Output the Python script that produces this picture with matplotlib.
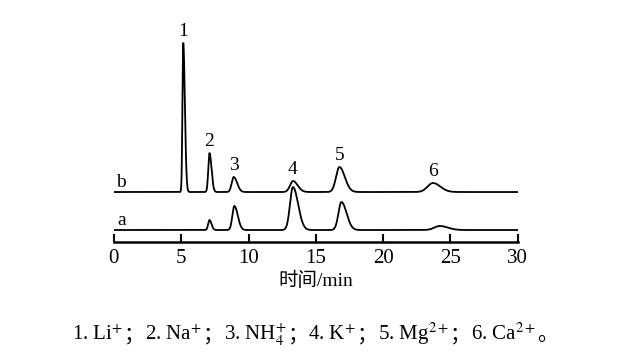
import numpy as np
import matplotlib.pyplot as plt

plt.rcParams['font.family'] = ['Liberation Serif', 'Noto Sans CJK SC']
plt.rcParams['mathtext.fontset'] = 'stix'

# peak data (retention time / min, height, left & right width)
rt_b = [5.15, 7.1, 8.9, 13.3, 16.75, 23.7]
h_b = [149, 39, 15, 11, 25, 9]
sl_b = [0.06, 0.09, 0.15, 0.22, 0.25, 0.4]
sr_b = [0.12, 0.15, 0.25, 0.35, 0.4, 0.55]

rt_a = [7.1, 8.95, 13.3, 16.9, 24.2]
h_a = [10, 24, 43, 28, 4]
sl_a = [0.1, 0.15, 0.22, 0.22, 0.4]
sr_a = [0.15, 0.25, 0.38, 0.38, 0.6]

base_b = 50
base_a = 12
peak_names = ['1', '2', '3', '4', '5', '6']
ions = ['Li$^{+}$', 'Na$^{+}$', 'NH$_4^{+}$', 'K$^{+}$', 'Mg$^{2+}$', 'Ca$^{2+}$']

t = np.linspace(0, 30, 3000)


def trace(base, rts, hs, sls, srs):
    y = np.full_like(t, base, dtype=float)
    for r, h, sl, sr in zip(rts, hs, sls, srs):
        s = np.where(t < r, sl, sr)
        y += h * np.exp(-0.5 * ((t - r) / s) ** 2)
    return y


yb = trace(base_b, rt_b, h_b, sl_b, sr_b)
ya = trace(base_a, rt_a, h_a, sl_a, sr_a)

fig = plt.figure(figsize=(6.4, 3.58), dpi=100)
ax = fig.add_axes([0.178, 0.324, 0.631, 0.620])
ax.plot(t, yb, color='black', lw=1.3)
ax.plot(t, ya, color='black', lw=1.3)

ax.text(0.55, base_b + 1, 'b', fontsize=14, ha='center', va='bottom')
ax.text(0.55, base_a + 1, 'a', fontsize=14, ha='center', va='bottom')

for name, r, h in zip(peak_names, rt_b, h_b):
    ax.text(r, base_b + h + 3, name, fontsize=14, ha='center', va='bottom')

ax.set_xlim(0, 30)
ax.set_ylim(0, 222)
ax.set_xticks([0, 5, 10, 15, 20, 25, 30])
ax.tick_params(axis='x', direction='in', length=6, width=1.5, labelsize=15, pad=5)
ax.set_yticks([])
for side in ['left', 'right', 'top']:
    ax.spines[side].set_visible(False)
ax.spines['bottom'].set_linewidth(1.8)
ax.set_xlabel('时间/min', fontsize=14, labelpad=3)

# caption built piece by piece so the full-width punctuation gets a CJK font
parts = []
for i, ion in enumerate(ions):
    parts.append(f'{i + 1}. {ion}')
    parts.append('；' if i < len(ions) - 1 else '。')

fig.canvas.draw()
r = fig.canvas.get_renderer()
pieces = []
x = 0.0
for p in parts:
    cjk = p in ('；', '。')
    fam = 'Noto Sans CJK SC' if cjk else 'Liberation Serif'
    txt = fig.text(x, 0.05, p, fontsize=15, family=fam, ha='left',
                   va='baseline', transform=None)
    w = txt.get_window_extent(r).width
    pieces.append(txt)
    x += w + (0 if cjk else 1)

start = (fig.bbox.width - x) / 2 - 5
base_y = fig.bbox.height * 0.05
for txt in pieces:
    px = txt.get_position()[0]
    txt.set_position((start + px, base_y))

fig.savefig('out.png', dpi=100)
